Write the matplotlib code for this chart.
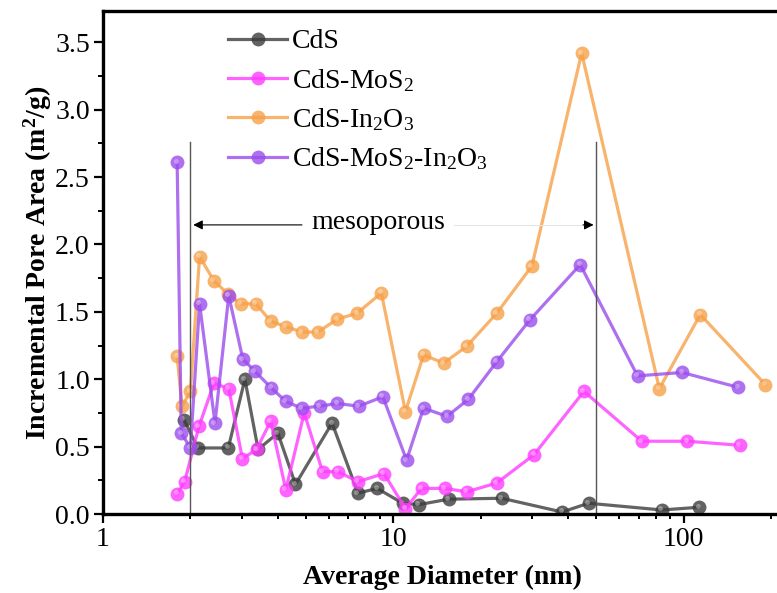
import matplotlib
matplotlib.use('Agg')
import matplotlib.pyplot as plt
from matplotlib.transforms import offset_copy

plt.rcParams['font.family'] = ['Liberation Serif', 'DejaVu Serif']
plt.rcParams['mathtext.default'] = 'regular'

# pore size distribution (Average Diameter in nm, Incremental Pore Area in m2/g)
cds_x = [1.90, 2.12, 2.70, 3.08, 3.42, 4.00, 4.60, 6.15, 7.55, 8.80, 10.75, 12.25, 15.5, 23.6, 38.1, 47.0, 84.0, 113.0]
cds_y = [0.70, 0.49, 0.49, 1.00, 0.48, 0.60, 0.22, 0.675, 0.155, 0.19, 0.08, 0.07, 0.11, 0.117, 0.015, 0.08, 0.03, 0.05]

mos2_x = [1.80, 1.91, 2.14, 2.41, 2.71, 3.02, 3.38, 3.78, 4.26, 4.93, 5.70, 6.43, 7.55, 9.28,
          11.0, 12.5, 15.0, 17.9, 22.7, 30.5, 45.3, 71.7, 102.7, 156.0]
mos2_y = [0.15, 0.24, 0.65, 0.97, 0.93, 0.41, 0.48, 0.69, 0.18, 0.75, 0.315, 0.315, 0.24, 0.30,
          0.04, 0.19, 0.19, 0.165, 0.23, 0.44, 0.91, 0.54, 0.54, 0.51]

in2o3_x = [1.80, 1.87, 2.00, 2.15, 2.41, 2.70, 2.98, 3.36, 3.78, 4.26, 4.84, 5.49, 6.40, 7.50,
           9.09, 11.0, 12.7, 14.9, 17.9, 22.7, 30.0, 44.5, 82.4, 114.0, 191.0]
in2o3_y = [1.17, 0.80, 0.91, 1.91, 1.73, 1.63, 1.56, 1.56, 1.43, 1.39, 1.35, 1.35, 1.445, 1.49,
           1.64, 0.76, 1.18, 1.12, 1.245, 1.49, 1.84, 3.42, 0.93, 1.48, 0.96]

mix_x = [1.80, 1.86, 2.00, 2.15, 2.43, 2.71, 3.03, 3.33, 3.80, 4.26, 4.83, 5.57, 6.40, 7.60,
         9.20, 11.1, 12.7, 15.3, 18.1, 22.7, 29.5, 44.0, 69.3, 98.7, 154.0]
mix_y = [2.61, 0.60, 0.49, 1.56, 0.675, 1.62, 1.15, 1.06, 0.935, 0.835, 0.785, 0.80, 0.82, 0.80,
         0.87, 0.40, 0.785, 0.725, 0.85, 1.13, 1.44, 1.85, 1.025, 1.05, 0.94]

series = [
    ('CdS', cds_x, cds_y, '#3c3c3c'),
    ('CdS-MoS$_2$', mos2_x, mos2_y, '#ff3cff'),
    ('CdS-In$_2$O$_3$', in2o3_x, in2o3_y, '#f7a048'),
    ('CdS-MoS$_2$-In$_2$O$_3$', mix_x, mix_y, '#9a4cec'),
]

fig = plt.figure(figsize=(7.77, 5.93), dpi=100)
ax = fig.add_axes([0.1326, 0.1332, 0.8724, 0.8478])

# small shifted dots for the glossy look of the markers
shine = offset_copy(ax.transData, fig=fig, x=-1.5, y=1.5, units='dots')

for label, xs, ys, color in series:
    ax.plot(xs, ys, '-o', color=color, lw=2.3, ms=10, alpha=0.8,
            markeredgewidth=0, label=label)
    ax.plot(xs, ys, 'o', color='white', ms=3.5, alpha=0.35,
            markeredgewidth=0, transform=shine)

ax.set_xscale('log')
ax.set_xlim(1, 216)
ax.set_ylim(0, 3.73)

# mesoporous region markers
ax.plot([2, 2], [0, 2.76], color='#555555', lw=1.0)
ax.plot([50, 50], [0, 2.76], color='#555555', lw=1.0)
ax.annotate('', xy=(2, 2.145), xytext=(4.95, 2.145),
            arrowprops=dict(arrowstyle='-|>', color='black', lw=0.8, mutation_scale=14))
ax.plot([16.2, 47], [2.145, 2.145], color='#e6e6e6', lw=0.8)
ax.annotate('', xy=(50, 2.145), xytext=(44, 2.145),
            arrowprops=dict(arrowstyle='-|>', color='black', lw=0.8, mutation_scale=14))
ax.text(8.9, 2.16, 'mesoporous', fontsize=20, ha='center', va='center')

ax.set_yticks([0, 0.5, 1.0, 1.5, 2.0, 2.5, 3.0, 3.5])
ax.set_yticklabels(['0.0', '0.5', '1.0', '1.5', '2.0', '2.5', '3.0', '3.5'])
ax.set_yticks([0.25, 0.75, 1.25, 1.75, 2.25, 2.75, 3.25], minor=True)
ax.set_xticks([1, 10, 100])
ax.set_xticklabels(['1', '10', '100'])

ax.tick_params(which='major', direction='out', length=6.5, width=1.6, labelsize=20, pad=3)
ax.tick_params(which='minor', direction='out', length=3.6, width=1.4)

for side in ['left', 'bottom', 'top']:
    ax.spines[side].set_linewidth(2.4)
ax.spines['right'].set_visible(False)

ax.set_xlabel('Average Diameter (nm)', fontsize=20, fontweight='bold', labelpad=9)
ax.set_ylabel('Incremental Pore Area (m$^2$/g)', fontsize=20, fontweight='bold', labelpad=1)

ax.legend(loc='upper left', bbox_to_anchor=(0.185, 0.965), frameon=False, fontsize=20,
          handlelength=2.1, handletextpad=0.2, labelspacing=0.45, borderpad=0, borderaxespad=0)

fig.savefig('out.png', dpi=100)
